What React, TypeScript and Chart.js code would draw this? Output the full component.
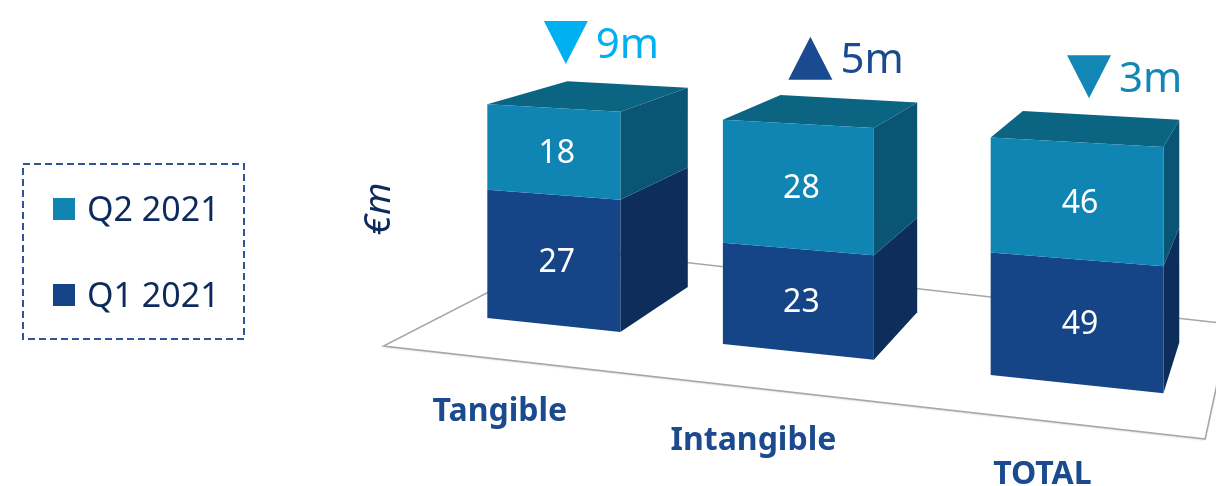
import React, { useEffect, useRef } from 'react';
import { Chart, registerables } from 'chart.js';

Chart.register(...registerables);

// ---- data ----
const categories = ['Tangible', 'Intangible', 'TOTAL'];
const seriesNames = ['Q1 2021', 'Q2 2021'];
const q1Values = [27, 23, 49];
const q2Values = [18, 28, 46];
const unitLabel = '€m';
const changeSuffix = 'm';

// ---- styles ----
const FRONT = ['#154487', '#1084B3'];
const SIDE = ['#0D2D5A', '#0A5574'];
const TOP = ['#123A72', '#0B6482'];
const CHANGE_COLORS = ['#00B0F0', '#1A4A8F', '#1287B5'];
const LABEL_COLOR = '#1B4A8F';
const NAVY = '#0D2A5C';
const FONT = '"Noto Sans", sans-serif';

// view / perspective parameters
const AXIS_IDS = ['yA', 'yB', 'yC'];
const AXIS_RANGES = [
  { min: -33.4, max: 67.4 },
  { min: -30, max: 78.7 },
  { min: -40, max: 150.8 },
];
const WARP_P = 0.0612;
const WARP_B = 1.0;
const DEPTH_K = 0.095;
const FLOOR_FRONT_K = -0.073;
const FLOOR_BACK_K = 0.14;

const datasets: any[] = [];
categories.forEach((_, i) => {
  [q1Values, q2Values].forEach((vals, s) => {
    datasets.push({
      label: seriesNames[s],
      data: categories.map((__, j) => (j === i ? vals[j] : null)),
      yAxisID: AXIS_IDS[i],
      grouped: false,
      barPercentage: 0.58,
      categoryPercentage: 1,
      backgroundColor: FRONT[s],
      catIndex: i,
      seriesIndex: s,
    });
  });
});

type Pt = { x: number; y: number };

const prismPlugin = {
  id: 'prism3d',
  beforeDatasetsDraw() {
    return false;
  },
  afterDraw(chart: any) {
    const ctx: CanvasRenderingContext2D = chart.ctx;
    const xs = chart.scales.x;
    const area = chart.chartArea;
    const c0 = xs.getPixelForValue(0);
    const d = xs.getPixelForValue(1) - c0;
    const warpX = (x: number) => {
      const t = (x - c0) / d;
      return c0 + (WARP_B * d * t) / (1 - WARP_P * t);
    };
    const VP: Pt = { x: area.right + 204, y: area.top - 140 };
    const toward = (p: Pt, k: number): Pt => ({ x: p.x + k * (VP.x - p.x), y: p.y + k * (VP.y - p.y) });
    const poly = (pts: Pt[], fill: string) => {
      ctx.beginPath();
      ctx.moveTo(pts[0].x, pts[0].y);
      for (let i = 1; i < pts.length; i++) ctx.lineTo(pts[i].x, pts[i].y);
      ctx.closePath();
      ctx.fillStyle = fill;
      ctx.fill();
    };

    // gather elements per category
    const cats = categories.map((_, i) => {
      const segs = [0, 1].map((s) => {
        const di = datasets.findIndex((ds) => ds.catIndex === i && ds.seriesIndex === s);
        const el = chart.getDatasetMeta(di).data[i];
        return { el, s, value: chart.data.datasets[di].data[i] };
      });
      const topY = Math.min(...segs.map((g) => g.el.y));
      const baseY = Math.max(...segs.map((g) => g.el.base));
      const xl = warpX(segs[0].el.x - segs[0].el.width / 2);
      const xr = warpX(segs[0].el.x + segs[0].el.width / 2);
      return { segs, topY, baseY, xl, xr, xm: (xl + xr) / 2 };
    });

    // ---- floor ----
    const b0 = { x: cats[0].xm, y: cats[0].baseY };
    const b2 = { x: cats[2].xm, y: cats[2].baseY };
    const slope = (b2.y - b0.y) / (b2.x - b0.x);
    const baseAt = (x: number): Pt => ({ x, y: b0.y + (x - b0.x) * slope });
    const Lb = baseAt(warpX(c0 - 0.47 * d));
    const Rb = baseAt(warpX(c0 + 2.45 * d));
    const floorPts = [toward(Lb, FLOOR_FRONT_K), toward(Rb, FLOOR_FRONT_K), toward(Rb, FLOOR_BACK_K), toward(Lb, FLOOR_BACK_K)];
    ctx.save();
    ctx.beginPath();
    floorPts.forEach((p, i) => (i ? ctx.lineTo(p.x, p.y) : ctx.moveTo(p.x, p.y)));
    ctx.closePath();
    ctx.fillStyle = '#FFFFFF';
    ctx.shadowColor = 'rgba(0,0,0,0.25)';
    ctx.shadowBlur = 2;
    ctx.shadowOffsetY = 1;
    ctx.fill();
    ctx.shadowColor = 'transparent';
    ctx.strokeStyle = '#A6A6A6';
    ctx.lineWidth = 1.5;
    ctx.stroke();
    ctx.restore();

    // ---- bars ----
    cats.forEach((c, i) => {
      const sAt = (y: number) => 0.055 + 0.05 * Math.max(0, Math.min(1, (y - c.topY) / (c.baseY - c.topY)));
      const edge = (y: number) => {
        const s = sAt(y);
        return { L: { x: c.xl, y: y - s * (c.xm - c.xl) }, R: { x: c.xr, y: y + s * (c.xr - c.xm) } };
      };
      const ordered = [...c.segs].sort((a, b) => b.el.base - a.el.base);
      ordered.forEach((g, idx) => {
        const top = edge(g.el.y);
        const bot = edge(g.el.base);
        const TL = top.L, TR = top.R, BR = bot.R, BL = bot.L;
        poly([TR, toward(TR, DEPTH_K), toward(BR, DEPTH_K), BR], SIDE[g.s]);
        if (idx === ordered.length - 1) {
          poly([TL, TR, toward(TR, DEPTH_K), toward(TL, DEPTH_K)], TOP[g.s]);
        }
        poly([TL, TR, BR, BL], FRONT[g.s]);
        // value label
        const cx = (TL.x + TR.x + BR.x + BL.x) / 4;
        const cy = (TL.y + TR.y + BR.y + BL.y) / 4;
        ctx.fillStyle = '#FFFFFF';
        ctx.font = `32px ${FONT}`;
        ctx.textAlign = 'center';
        ctx.textBaseline = 'alphabetic';
        ctx.fillText(String(g.value), cx + 3, cy + 12);
      });

      // change indicator
      const change = q2Values[i] - q1Values[i];
      const frontTopY = c.topY;
      const triCx = c.xm + 12;
      const triBottom = frontTopY - 44;
      const triTop = triBottom - 43;
      const half = 22;
      ctx.fillStyle = CHANGE_COLORS[i];
      ctx.beginPath();
      if (change < 0) {
        ctx.moveTo(triCx - half, triTop);
        ctx.lineTo(triCx + half, triTop);
        ctx.lineTo(triCx, triBottom);
      } else {
        ctx.moveTo(triCx, triTop);
        ctx.lineTo(triCx + half, triBottom);
        ctx.lineTo(triCx - half, triBottom);
      }
      ctx.closePath();
      ctx.fill();
      ctx.font = `42px ${FONT}`;
      ctx.textAlign = 'left';
      ctx.textBaseline = 'alphabetic';
      ctx.fillText(`${Math.abs(change)}${changeSuffix}`, triCx + half + 8, (triTop + triBottom) / 2 + 15);

      // category label (on the front of the floor)
      const lp = toward({ x: c.xm, y: c.baseY }, FLOOR_FRONT_K);
      const labelX = c.xm - 54 + (c.xm - cats[0].xm) * 0.037;
      ctx.fillStyle = LABEL_COLOR;
      ctx.font = `bold 32px ${FONT}`;
      ctx.textAlign = 'center';
      ctx.fillText(chart.data.labels[i], labelX, lp.y + 62);
    });

    // ---- unit title ----
    ctx.save();
    ctx.translate(379, 209);
    ctx.rotate(-Math.PI / 2);
    ctx.fillStyle = '#0B2A5E';
    ctx.font = `italic 37px ${FONT}`;
    ctx.textAlign = 'center';
    ctx.textBaseline = 'middle';
    ctx.fillText(unitLabel, 0, 0);
    ctx.restore();

    // ---- legend ----
    ctx.save();
    ctx.setLineDash([7, 4]);
    ctx.strokeStyle = '#2F5597';
    ctx.lineWidth = 2;
    ctx.strokeRect(23, 164, 221, 175);
    ctx.restore();
    const legendRows = [1, 0];
    legendRows.forEach((s, r) => {
      const cy = 209 + r * 86;
      ctx.fillStyle = FRONT[s];
      ctx.fillRect(53, cy - 11, 22, 22);
      ctx.fillStyle = NAVY;
      ctx.font = `34px ${FONT}`;
      ctx.textAlign = 'left';
      ctx.textBaseline = 'alphabetic';
      ctx.fillText(seriesNames[s], 87, cy + 12);
    });
  },
};

export default function App() {
  const ref = useRef<HTMLCanvasElement>(null);
  useEffect(() => {
    const scales: any = {
      x: { type: 'category', display: false, stacked: true, offset: true, grid: { display: false } },
    };
    AXIS_IDS.forEach((id, i) => {
      scales[id] = { type: 'linear', display: false, stacked: true, min: AXIS_RANGES[i].min, max: AXIS_RANGES[i].max };
    });
    const chart = new Chart(ref.current as HTMLCanvasElement, {
      type: 'bar',
      data: { labels: categories, datasets },
      options: {
        animation: false,
        responsive: true,
        maintainAspectRatio: false,
        devicePixelRatio: 1,
        layout: { padding: { left: 438, right: 90, top: 0, bottom: 0 } },
        plugins: { legend: { display: false }, tooltip: { enabled: false } },
        scales,
      },
      plugins: [prismPlugin],
    } as any);
    return () => chart.destroy();
  }, []);
  return (
    <div style={{ position: 'absolute', left: 0, top: 0, width: 1216, height: 486 }}>
      <canvas ref={ref} />
    </div>
  );
}
